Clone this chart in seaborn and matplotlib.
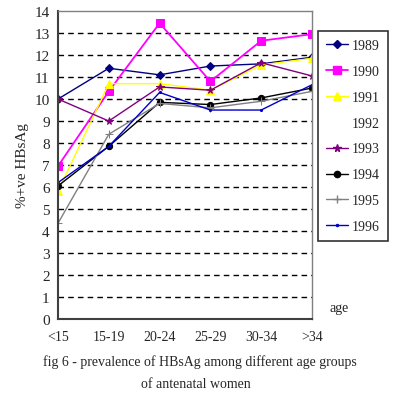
import pandas as pd
import matplotlib.pyplot as plt
import seaborn as sns
from matplotlib.lines import Line2D

# --- data ---
age_groups = ['<15', '15-19', '20-24', '25-29', '30-34', '>34']
y1989 = [10.0, 11.4, 11.1, 11.5, 11.6, 11.9]
y1990 = [6.95, 10.35, 13.45, 10.8, 12.65, 12.95]
y1991 = [5.8, 10.7, 10.7, 10.4, 11.55, 11.85]
y1993 = [10.0, 9.0, 10.55, 10.4, 11.65, 11.05]
y1994 = [6.05, 7.85, 9.85, 9.75, 10.05, 10.5]
y1995 = [4.35, 8.4, 9.8, 9.6, 9.9, 10.35]
y1996 = [6.2, 7.85, 10.3, 9.5, 9.5, 10.65]

series = {'1989': y1989, '1990': y1990, '1991': y1991, '1993': y1993,
          '1994': y1994, '1995': y1995, '1996': y1996}

# styles per year (1992 has no data, only a legend label)
styles = {
    '1989': dict(color='#000080', marker='D', ms=4, lw=1.0, ls='-'),
    '1990': dict(color='#FF00FF', marker='s', ms=5.5, lw=1.3, ls='-'),
    '1991': dict(color='#FFFF00', marker='^', ms=5.5, lw=1.0, ls='-'),
    '1993': dict(color='#800080', marker='*', ms=5.5, lw=1.0, ls='-'),
    '1994': dict(color='black', marker='o', ms=4.5, lw=1.0, ls='-'),
    '1995': dict(color='#808080', marker='+', ms=5.5, lw=1.0, ls='-'),
    '1996': dict(color='#0000CC', marker='.', ms=3, lw=1.0, ls='-'),
}

rows = []
for yr, vals in series.items():
    for i, v in enumerate(vals):
        rows.append({'year': yr, 'pos': i, 'value': v})
df = pd.DataFrame(rows)

sns.set_style('white')
plt.rcParams['font.family'] = ['Liberation Serif', 'DejaVu Serif']

fig = plt.figure(figsize=(4.0, 4.02), dpi=100)
ax = fig.add_axes([0.145, 0.204, 0.635, 0.766])

for yr in series:
    st = styles[yr]
    sns.lineplot(data=df[df['year'] == yr], x='pos', y='value', ax=ax,
                 color=st['color'], marker=st['marker'], markersize=st['ms'],
                 linewidth=st['lw'], linestyle=st['ls'],
                 markeredgecolor=st['color'], sort=False, legend=False)

ax.set_xlim(0, 5)
ax.set_ylim(0, 14)
ax.set_yticks(range(0, 15))
ax.set_xticks(range(len(age_groups)))
ax.set_xticklabels(age_groups)
ax.set_xlabel('')
ax.set_ylabel('%+ve HBsAg', fontsize=11, labelpad=4)

for v in range(1, 14):
    ax.axhline(v, color='black', lw=1.0, ls=(0, (4, 3)), zorder=0)

ax.tick_params(axis='x', direction='in', length=4, width=1, pad=8, labelsize=10)
ax.tick_params(axis='y', length=0, pad=6, labelsize=11)
for side in ['top', 'right']:
    ax.spines[side].set_color('#808080')
    ax.spines[side].set_linewidth(1)
for side in ['left', 'bottom']:
    ax.spines[side].set_color('#404040')
    ax.spines[side].set_linewidth(1.5)

# legend including the empty 1992 entry
handles = []
labels = []
for yr in ['1989', '1990', '1991', '1992', '1993', '1994', '1995', '1996']:
    if yr in styles:
        st = styles[yr]
        handles.append(Line2D([], [], color=st['color'], marker=st['marker'],
                              markersize=st['ms'], lw=st['lw'],
                              markeredgecolor=st['color']))
    else:
        handles.append(Line2D([], [], color='none'))
    labels.append(yr)
leg = fig.legend(handles, labels, loc='upper left',
                 bbox_to_anchor=(0.795, 0.92), borderaxespad=0,
                 frameon=True, fancybox=False, shadow=False, fontsize=10,
                 handlelength=1.6, labelspacing=0.93, borderpad=0.55,
                 handletextpad=0.3)
leg.get_frame().set_edgecolor('black')
leg.get_frame().set_linewidth(1.2)

fig.text(0.825, 0.225, 'age', fontsize=10)
fig.text(0.5, 0.098, 'fig 6 - prevalence of HBsAg among different age groups',
         ha='center', va='center', fontsize=10)
fig.text(0.49, 0.043, 'of antenatal women', ha='center', va='center', fontsize=10)

fig.savefig('out.png', dpi=100)
